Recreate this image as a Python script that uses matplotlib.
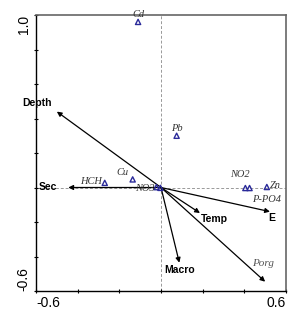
import matplotlib
matplotlib.use("Agg")
import matplotlib.pyplot as plt

# Species / sample points (triangles)
pt_names = ["Cd", "Pb", "HCH", "Cu", "NO3", "", "NO2", "P-PO4", "Zn"]
pt_x = [-0.11, 0.075, -0.27, -0.136, -0.022, -0.003, 0.405, 0.425, 0.508]
pt_y = [0.96, 0.30, 0.027, 0.047, 0.002, -0.002, -0.003, -0.003, 0.003]

# Environmental vectors (arrows)
vec_names = ["Depth", "Sec", "Temp", "E", "Macro", "Porg"]
vec_x = [-0.50, -0.445, 0.187, 0.523, 0.088, 0.50]
vec_y = [0.44, 0.0, -0.148, -0.14, -0.436, -0.546]

x_ticklabels = ["-0.6", "0.6"]
y_ticklabels = ["-0.6", "1.0"]

# label offsets in points (style/layout, not data)
pt_off = {"Cd": (0, 5, "center", "center"), "Pb": (0, 5, "center", "center"),
          "HCH": (-2, 1, "right", "center"), "Cu": (-3, 5, "right", "center"),
          "NO3": (-1.5, -1, "right", "center"),
          "NO2": (-4, 10, "center", "center"), "P-PO4": (2, -8, "left", "center"),
          "Zn": (2, 1, "left", "center")}
vec_off = {"Depth": (-14, 6.5, "center", "center"), "Sec": (-8, 0, "right", "center"),
           "Temp": (1, -4.5, "left", "center"), "E": (1.5, -4.5, "center", "center"),
           "Macro": (0, -5, "center", "center"), "Porg": (-1.5, 13, "center", "center")}

fig = plt.figure(figsize=(3.03, 3.25), dpi=100)
ax = fig.add_axes([36/303, 1-291/325, 250/303, 276/325])
ax.set_xlim(-0.6, 0.6)
ax.set_ylim(-0.6, 1.0)

ax.axhline(0, color="#999999", ls=(0, (3, 2)), lw=0.7, zorder=0)
ax.axvline(0, color="#999999", ls=(0, (3, 2)), lw=0.7, zorder=0)

for n, x, y in zip(vec_names, vec_x, vec_y):
    ax.annotate("", xy=(x, y), xytext=(0, 0),
                arrowprops=dict(arrowstyle="-|>", color="black", lw=0.9,
                                mutation_scale=7, shrinkA=0, shrinkB=0))
    dx, dy, ha, va = vec_off[n]
    if n == "Porg":
        ax.annotate(n, (x, y), xytext=(dx, dy), textcoords="offset points",
                    ha=ha, va=va, fontsize=8, style="italic",
                    family="Liberation Serif", color="#555555")
    else:
        ax.annotate(n, (x, y), xytext=(dx, dy), textcoords="offset points",
                    ha=ha, va=va, fontsize=7.5, fontweight="bold",
                    family="Liberation Sans", color="black")

ax.scatter(pt_x, pt_y, marker="^", s=14, facecolors="none",
           edgecolors="#2a2a9a", linewidths=1.0, zorder=3)
for n, x, y in zip(pt_names, pt_x, pt_y):
    if not n:
        continue
    dx, dy, ha, va = pt_off[n]
    ax.annotate(n, (x, y), xytext=(dx, dy), textcoords="offset points",
                ha=ha, va=va, fontsize=7.5, style="italic",
                family="Liberation Serif", color="#333333", zorder=4)

ax.set_xticks([-0.6, 0.6])
ax.set_xticklabels(x_ticklabels)
ax.set_yticks([-0.6, 1.0])
ax.set_yticklabels(y_ticklabels, rotation=90)
ax.set_xticks([-0.4, -0.2, 0.0, 0.2, 0.4], minor=True)
ax.set_yticks([-0.4, -0.2, 0.0, 0.2, 0.4, 0.6, 0.8], minor=True)
ax.tick_params(axis="both", which="both", direction="inout", length=3.5, width=0.8,
               labelsize=10, pad=2)
for t in ax.get_xticklabels() + ax.get_yticklabels():
    t.set_family("Liberation Sans")
xl = ax.get_xticklabels()
xl[0].set_ha("left"); xl[1].set_ha("right")
yl = ax.get_yticklabels()
yl[0].set_va("bottom"); yl[1].set_va("top")

for s in ["left", "bottom"]:
    ax.spines[s].set_color("black")
    ax.spines[s].set_linewidth(1.0)
for s in ["top", "right"]:
    ax.spines[s].set_color("#666666")
    ax.spines[s].set_linewidth(1.2)

fig.savefig("out.png", dpi=100)
